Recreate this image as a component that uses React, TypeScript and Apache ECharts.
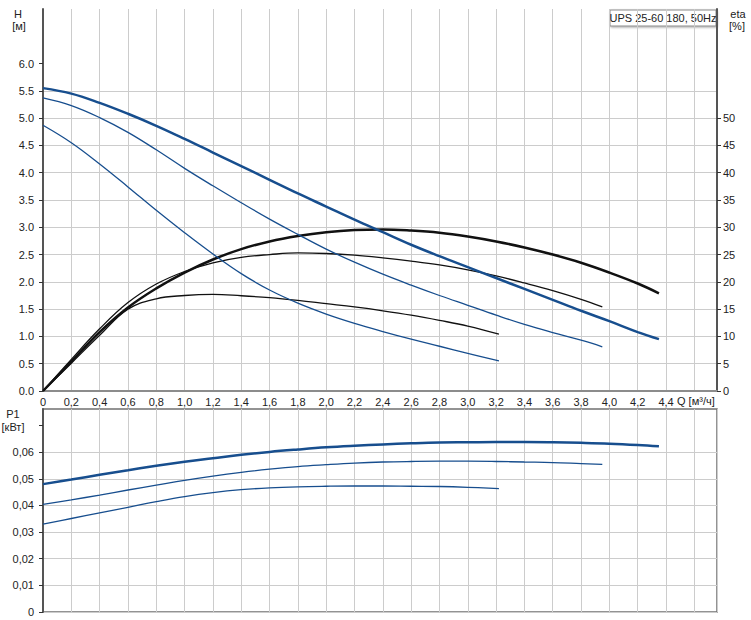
import React, { useEffect, useRef } from 'react'
import * as echarts from 'echarts'

// Q [м³/ч] для трёх скоростей
const qSpeed3 = [0, 0.2, 0.4, 0.6, 0.8, 1.0, 1.2, 1.4, 1.6, 1.8, 2.0, 2.2, 2.4, 2.6, 2.8, 3.0, 3.2, 3.4, 3.6, 3.8, 4.0, 4.2, 4.35]
const qSpeed2 = [0, 0.2, 0.4, 0.6, 0.8, 1.0, 1.2, 1.4, 1.6, 1.8, 2.0, 2.2, 2.4, 2.6, 2.8, 3.0, 3.2, 3.4, 3.6, 3.8, 3.95]
const qSpeed1 = [0, 0.2, 0.4, 0.6, 0.8, 1.0, 1.2, 1.4, 1.6, 1.8, 2.0, 2.2, 2.4, 2.6, 2.8, 3.0, 3.22]

// H [м]
const hSpeed3 = [5.55, 5.45, 5.28, 5.08, 4.86, 4.62, 4.37, 4.12, 3.87, 3.62, 3.38, 3.14, 2.91, 2.68, 2.47, 2.27, 2.07, 1.87, 1.67, 1.47, 1.28, 1.08, 0.95]
const hSpeed2 = [5.37, 5.23, 5.01, 4.74, 4.42, 4.08, 3.76, 3.45, 3.15, 2.87, 2.6, 2.36, 2.14, 1.94, 1.75, 1.57, 1.39, 1.22, 1.07, 0.93, 0.81]
const hSpeed1 = [4.87, 4.55, 4.16, 3.74, 3.31, 2.9, 2.51, 2.15, 1.85, 1.61, 1.41, 1.24, 1.09, 0.95, 0.82, 0.69, 0.55]

// eta [%]
const etaSpeed3 = [0, 5.4, 10.8, 15.3, 18.8, 21.7, 24.1, 26.0, 27.4, 28.4, 29.1, 29.5, 29.6, 29.4, 29.0, 28.3, 27.4, 26.3, 25.0, 23.5, 21.7, 19.7, 17.9]
const etaSpeed2 = [0, 5.8, 11.4, 16.2, 19.6, 21.9, 23.5, 24.5, 25.0, 25.3, 25.2, 24.9, 24.4, 23.8, 23.1, 22.2, 21.1, 19.8, 18.4, 16.8, 15.4]
const etaSpeed1 = [0, 5.1, 10.2, 15.0, 16.9, 17.5, 17.7, 17.45, 17.1, 16.6, 16.0, 15.4, 14.7, 13.9, 12.95, 11.9, 10.4]

// P1 [кВт]
const p1Speed3 = [0.048, 0.0497, 0.0515, 0.0532, 0.0549, 0.0564, 0.0577, 0.059, 0.0601, 0.061, 0.0618, 0.0624, 0.0629, 0.0633, 0.0636, 0.0637, 0.0638, 0.0638, 0.0637, 0.0635, 0.0632, 0.0627, 0.0622]
const p1Speed2 = [0.0404, 0.0421, 0.0439, 0.0458, 0.0476, 0.0494, 0.051, 0.0524, 0.0536, 0.0546, 0.0553, 0.0559, 0.0563, 0.0565, 0.0566, 0.0566, 0.0565, 0.0563, 0.0561, 0.0557, 0.0554]
const p1Speed1 = [0.033, 0.0351, 0.0372, 0.0393, 0.0414, 0.0433, 0.0448, 0.0459, 0.0466, 0.047, 0.0472, 0.0473, 0.0473, 0.0472, 0.0471, 0.0468, 0.0463]

// подписи осей
const qLabels = [0, 0.2, 0.4, 0.6, 0.8, 1.0, 1.2, 1.4, 1.6, 1.8, 2.0, 2.2, 2.4, 2.6, 2.8, 3.0, 3.2, 3.4, 3.6, 3.8, 4.0, 4.2, 4.4]
const hLabels = [0, 0.5, 1.0, 1.5, 2.0, 2.5, 3.0, 3.5, 4.0, 4.5, 5.0, 5.5, 6.0]
const etaLabels = [0, 5, 10, 15, 20, 25, 30, 35, 40, 45, 50]
const p1Ticks = [0, 0.01, 0.02, 0.03, 0.04, 0.05, 0.06, 0.07]
const p1Labels = [0, 0.01, 0.02, 0.03, 0.04, 0.05, 0.06]

const FONT = '"Liberation Sans", Arial, sans-serif'
const BLUE = '#174e8e'
const BLACK = '#111111'
const GRID_LINE = '#cccccc'
const AXIS_DARK = '#555555'

const pairs = (q: number[], v: number[]) => q.map((x, i) => [x, v[i]])

const curve = (x: number, y: number, data: number[][], color: string, width: number) => ({
    type: 'line',
    xAxisIndex: x,
    yAxisIndex: y,
    data,
    smooth: 0.4,
    symbol: 'none',
    silent: true,
    lineStyle: { color, width },
})

const comma = (v: number, digits: number) => (v === 0 ? '0' : v.toFixed(digits).replace('.', ','))

const labelText = (text: string, x: number, y: number, align = 'center') => ({
    type: 'text',
    x,
    y,
    silent: true,
    style: { text, fill: '#222', font: `11px ${FONT}`, align, verticalAlign: 'middle' },
})

const PumpChart: React.FC = () => {
    const chartRef = useRef<HTMLDivElement | null>(null)

    useEffect(() => {
        if (!chartRef.current) return
        const chart = echarts.init(chartRef.current, undefined, { renderer: 'svg' })

        const axisLabel = { color: '#222', fontSize: 11, fontFamily: FONT }

        const option = {
            animation: false,
            textStyle: { fontFamily: FONT },
            grid: [
                { left: 43, right: 34, top: 9, height: 382 },
                { left: 43, right: 34, top: 409, height: 203, show: true, borderColor: '#707070', borderWidth: 1.5 },
            ],
            xAxis: [
                {
                    gridIndex: 0, type: 'value', min: 0, max: 4.76, interval: 0.2,
                    axisLine: { show: true, onZero: false, lineStyle: { color: '#8c8c8c', width: 2 } },
                    axisTick: { show: false },
                    axisLabel: { ...axisLabel, margin: 5, customValues: qLabels, formatter: (v: number) => comma(v, 1) },
                    splitLine: { show: true, lineStyle: { color: GRID_LINE, width: 1 } },
                },
                {
                    gridIndex: 1, type: 'value', min: 0, max: 4.76, interval: 0.2,
                    axisLine: { show: false, onZero: false },
                    axisTick: { show: false },
                    axisLabel: { show: false },
                    splitLine: { show: true, lineStyle: { color: GRID_LINE, width: 1 } },
                },
            ],
            yAxis: [
                {
                    gridIndex: 0, type: 'value', min: 0, max: 7, interval: 0.5,
                    axisLine: { show: true, onZero: false, lineStyle: { color: AXIS_DARK, width: 2 } },
                    axisTick: { show: true, length: 4, customValues: hLabels, lineStyle: { color: '#333' } },
                    axisLabel: { ...axisLabel, margin: 9, customValues: hLabels, formatter: (v: number) => v.toFixed(1) },
                    splitLine: { show: true, showMaxLine: false, lineStyle: { color: GRID_LINE, width: 1 } },
                },
                {
                    gridIndex: 0, type: 'value', position: 'right', min: 0, max: 70, interval: 5,
                    axisLine: { show: true, onZero: false, lineStyle: { color: AXIS_DARK, width: 2 } },
                    axisTick: { show: true, length: 4, customValues: etaLabels, lineStyle: { color: '#333' } },
                    axisLabel: { ...axisLabel, margin: 6, customValues: etaLabels },
                    splitLine: { show: false },
                },
                {
                    gridIndex: 1, type: 'value', min: 0, max: 0.0762, interval: 0.01,
                    axisLine: { show: true, onZero: false, lineStyle: { color: AXIS_DARK, width: 2 } },
                    axisTick: { show: true, length: 4, customValues: p1Ticks, lineStyle: { color: '#333' } },
                    axisLabel: { ...axisLabel, margin: 9, customValues: p1Labels, formatter: (v: number) => comma(v, 2) },
                    splitLine: { show: true, showMaxLine: false, lineStyle: { color: GRID_LINE, width: 1 } },
                },
            ],
            graphic: [
                labelText('H', 18, 14),
                labelText('[м]', 19, 26),
                labelText('eta', 738, 14),
                labelText('[%]', 737, 26),
                labelText('P1', 13, 414),
                labelText('[кВт]', 13, 427),
                labelText('Q [м³/ч]', 677, 401, 'left'),
                {
                    type: 'rect',
                    silent: true,
                    shape: { x: 610, y: 10, width: 106, height: 16 },
                    style: {
                        fill: '#ffffff', stroke: '#8a8a8a', lineWidth: 1,
                        shadowBlur: 2, shadowOffsetX: 1, shadowOffsetY: 1, shadowColor: 'rgba(0,0,0,0.35)',
                    },
                },
                labelText('UPS 25-60 180, 50Hz', 663, 18),
            ],
            series: [
                curve(0, 1, pairs(qSpeed1, etaSpeed1), BLACK, 1.3),
                curve(0, 1, pairs(qSpeed2, etaSpeed2), BLACK, 1.3),
                curve(0, 1, pairs(qSpeed3, etaSpeed3), BLACK, 2.5),
                curve(0, 0, pairs(qSpeed1, hSpeed1), BLUE, 1.3),
                curve(0, 0, pairs(qSpeed2, hSpeed2), BLUE, 1.3),
                curve(0, 0, pairs(qSpeed3, hSpeed3), BLUE, 2.5),
                curve(1, 2, pairs(qSpeed1, p1Speed1), BLUE, 1.3),
                curve(1, 2, pairs(qSpeed2, p1Speed2), BLUE, 1.3),
                curve(1, 2, pairs(qSpeed3, p1Speed3), BLUE, 2.5),
            ],
        }

        // @ts-ignore
        chart.setOption(option)

        return () => {
            chart.dispose()
        }
    }, [])

    return <div ref={chartRef} style={{ position: 'absolute', left: 0, top: 0, width: 751, height: 620 }} />
}

export default function App() {
    return <PumpChart />
}
